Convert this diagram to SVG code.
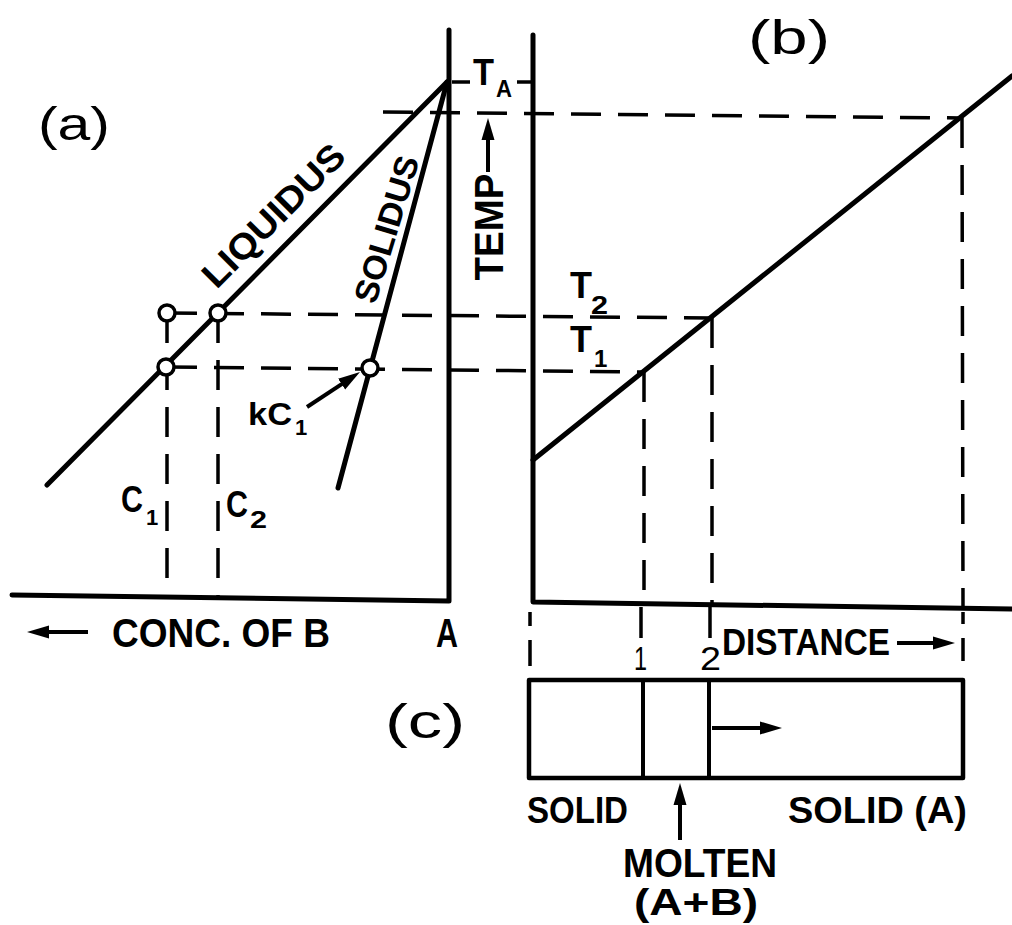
<svg xmlns="http://www.w3.org/2000/svg" width="1012" height="925" viewBox="0 0 1012 925">
<defs>
<style>
.ax{stroke:#000;stroke-width:5;fill:none;stroke-linecap:round;stroke-linejoin:round}
.ds{stroke:#000;stroke-width:3.5;fill:none;stroke-dasharray:30 17}
.sl{stroke:#000;stroke-width:3.5;fill:none}
.ar{stroke:#000;stroke-width:4;fill:none;marker-end:url(#ah)}
.pt{stroke:#000;stroke-width:3.5;fill:#fff}
.t{font-family:"Liberation Sans",Arial,sans-serif;font-weight:bold;fill:#000}
.n{font-weight:normal}
</style>
<marker id="ah" viewBox="0 0 22 14" refX="11" refY="7" markerWidth="22" markerHeight="14" markerUnits="userSpaceOnUse" orient="auto">
<path d="M0,0.5 L22,7 L0,13.5 z" fill="#000"/>
</marker>
</defs>
<rect width="1012" height="925" fill="#fff"/>
<g id="connectors">
<path class="ds" d="M383,112 L960,118"/>
<path class="ds" d="M167,313 L712,318"/>
<path class="ds" d="M167,367 L644,372"/>
<path class="ds" d="M167,313 L167,595"/>
<path class="ds" d="M218,313 L218,597"/>
<path class="ds" d="M644,372 L644,602"/>
<path class="ds" d="M712,318 L712,603"/>
<path class="ds" d="M962,118 L963,607"/>
<path class="sl" d="M530,612 L530,626 M530,640 L530,666"/>
<path class="sl" d="M641,607 L641,638"/>
<path class="sl" d="M710,607 L710,638"/>
<path class="sl" d="M963,612 L963,624 M963,638 L963,661"/>
<path class="sl" d="M452,82 L470,82"/>
<path class="sl" d="M517,82 L532,82"/>
</g>
<g id="panel-a">
<path class="ax" d="M449,30 L449,601 L12,595"/>
<path class="ax" d="M447,82 L47,485"/>
<path class="ax" d="M447,82 L338,488"/>
<circle class="pt" cx="167" cy="313" r="8"/>
<circle class="pt" cx="218" cy="313" r="8"/>
<circle class="pt" cx="166" cy="367" r="8"/>
<circle class="pt" cx="370" cy="368" r="8"/>
<path class="ar" d="M307,407 L350.8,378.1"/>
<text class="t n" x="38" y="140" font-size="46" textLength="72" lengthAdjust="spacingAndGlyphs">(a)</text>
<text class="t" transform="translate(273,215) rotate(-45)" y="13" font-size="36" text-anchor="middle" textLength="186" lengthAdjust="spacingAndGlyphs">LIQUIDUS</text>
<text class="t" transform="translate(386,229) rotate(-73)" y="12" font-size="33" text-anchor="middle" textLength="152" lengthAdjust="spacingAndGlyphs">SOLIDUS</text>
<text class="t" x="248" y="425" font-size="31" textLength="44" lengthAdjust="spacingAndGlyphs">kC</text>
<text class="t" x="295" y="435" font-size="22">1</text>
<text class="t" x="121" y="512" font-size="36" textLength="22" lengthAdjust="spacingAndGlyphs">C</text>
<text class="t" x="146" y="525" font-size="22">1</text>
<text class="t" x="226" y="517" font-size="36" textLength="22" lengthAdjust="spacingAndGlyphs">C</text>
<text class="t" x="250" y="528" font-size="24" textLength="17" lengthAdjust="spacingAndGlyphs">2</text>
<path class="ar" d="M88,632 L38,632"/>
<text class="t" x="112" y="647" font-size="40" textLength="218" lengthAdjust="spacingAndGlyphs">CONC. OF B</text>
<text class="t" x="436" y="647" font-size="40" textLength="22" lengthAdjust="spacingAndGlyphs">A</text>
</g>
<g id="temp-axis">
<text class="t" x="473" y="85" font-size="36" textLength="21" lengthAdjust="spacingAndGlyphs">T</text>
<text class="t" x="496" y="97" font-size="24" textLength="16" lengthAdjust="spacingAndGlyphs">A</text>
<path class="ar" d="M488,172 L488,129"/>
<text class="t" transform="translate(488,227) rotate(-90)" y="15" font-size="40" text-anchor="middle" textLength="107" lengthAdjust="spacingAndGlyphs">TEMP</text>
<text class="t" x="570" y="298" font-size="36" textLength="22" lengthAdjust="spacingAndGlyphs">T</text>
<text class="t" x="591" y="314" font-size="25" textLength="17" lengthAdjust="spacingAndGlyphs">2</text>
<text class="t" x="570" y="352" font-size="36" textLength="22" lengthAdjust="spacingAndGlyphs">T</text>
<text class="t" x="594" y="367" font-size="24">1</text>
</g>
<g id="panel-b">
<path class="ax" d="M533,35 L533,602 L1012,609"/>
<path class="ax" d="M533,460 L1012,76"/>
<text class="t n" x="748" y="54" font-size="48" textLength="82" lengthAdjust="spacingAndGlyphs">(b)</text>
<text class="t n" x="634" y="670" font-size="34" textLength="13" lengthAdjust="spacingAndGlyphs">1</text>
<text class="t n" x="700" y="670" font-size="34" textLength="21" lengthAdjust="spacingAndGlyphs">2</text>
<text class="t" x="722" y="655" font-size="37" textLength="168" lengthAdjust="spacingAndGlyphs">DISTANCE</text>
<path class="ar" d="M897,643 L944,643"/>
</g>
<g id="panel-c">
<text class="t n" x="385" y="738" font-size="48" textLength="80" lengthAdjust="spacingAndGlyphs">(c)</text>
<rect class="ax" x="529" y="680" width="434" height="98" style="stroke-width:4.5"/>
<path class="ax" d="M643,680 L643,778" style="stroke-width:4"/>
<path class="ax" d="M709,680 L709,778" style="stroke-width:4"/>
<path class="ar" d="M712,728 L771,728"/>
<text class="t" x="527" y="823" font-size="36" textLength="101" lengthAdjust="spacingAndGlyphs">SOLID</text>
<text class="t" x="788" y="823" font-size="36" textLength="179" lengthAdjust="spacingAndGlyphs">SOLID (A)</text>
<path class="ar" d="M680,840 L680,794"/>
<text class="t" x="623" y="877" font-size="40" textLength="154" lengthAdjust="spacingAndGlyphs">MOLTEN</text>
<text class="t" x="634" y="915" font-size="37" textLength="124" lengthAdjust="spacingAndGlyphs">(A+B)</text>
</g>
</svg>
